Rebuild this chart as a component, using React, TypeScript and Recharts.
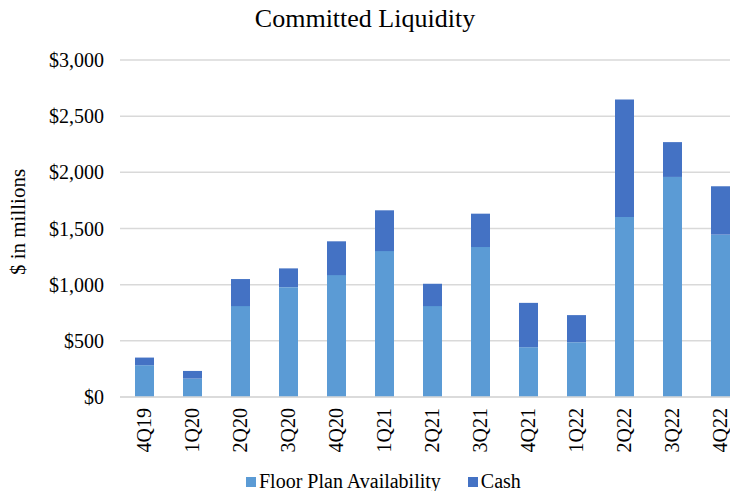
import { Bar, BarChart, CartesianGrid, Legend, XAxis, YAxis } from "recharts";

const quarters = [
  "4Q19", "1Q20", "2Q20", "3Q20", "4Q20", "1Q21", "2Q21",
  "3Q21", "4Q21", "1Q22", "2Q22", "3Q22", "4Q22",
];
const floorPlan = [283, 164, 809, 978, 1085, 1299, 809, 1335, 443, 488, 1603, 1959, 1445];
const cash = [68, 68, 241, 167, 301, 363, 199, 297, 395, 241, 1046, 310, 431];
const yTicks = [0, 500, 1000, 1500, 2000, 2500, 3000];

const FLOOR_COLOR = "#5B9BD5";
const CASH_COLOR = "#4472C4";
const FONT = '"Liberation Serif", "Times New Roman", serif';

const data = quarters.map((q, i) => ({ name: q, floor: floorPlan[i], cash: cash[i] }));

const formatDollars = (v: number) => "$" + v.toLocaleString("en-US");

function QuarterTick(props: any) {
  const { x, y, payload } = props;
  return (
    <text
      x={x}
      y={y}
      transform={`rotate(-90 ${x} ${y})`}
      textAnchor="end"
      dominantBaseline="central"
      fontFamily={FONT}
      fontSize={20}
      fill="#000"
    >
      {payload.value}
    </text>
  );
}

function LegendBox() {
  const items = [
    { label: "Floor Plan Availability", color: FLOOR_COLOR },
    { label: "Cash", color: CASH_COLOR },
  ];
  return (
    <div style={{ display: "flex", alignItems: "center", fontFamily: FONT, fontSize: 20, color: "#000", whiteSpace: "nowrap" }}>
      {items.map((it, i) => (
        <div key={it.label} style={{ display: "flex", alignItems: "center", marginRight: i === 0 ? 27 : 0 }}>
          <span style={{ display: "inline-block", width: 10, height: 10, background: it.color, marginRight: 3 }} />
          <span>{it.label}</span>
        </div>
      ))}
    </div>
  );
}

export default function App() {
  return (
    <div style={{ position: "fixed", left: 0, top: 0, width: 730, height: 491, overflow: "hidden", background: "#fff" }}>
      <div
        style={{
          position: "absolute",
          left: 0,
          width: 730,
          top: 4,
          textAlign: "center",
          fontFamily: FONT,
          fontSize: 26,
          color: "#000",
        }}
      >
        Committed Liquidity
      </div>
      <BarChart
        width={760}
        height={491}
        data={data}
        margin={{ top: 60, right: 16, bottom: 0, left: 0 }}
      >
        <CartesianGrid vertical={false} stroke="#d9d9d9" strokeWidth={1.5} />
        <XAxis
          dataKey="name"
          height={94}
          axisLine={{ stroke: "#d9d9d9", strokeWidth: 1.5 }}
          tickLine={false}
          tickSize={0}
          tickMargin={11}
          interval={0}
          tick={<QuarterTick />}
        />
        <YAxis
          width={120}
          domain={[0, 3000]}
          ticks={yTicks}
          tickFormatter={formatDollars}
          axisLine={false}
          tickLine={false}
          tickSize={0}
          tickMargin={16}
          tick={{ fontFamily: FONT, fontSize: 20, fill: "#000" }}
          label={{
            content: () => (
              <text
                x={18}
                y={222}
                transform="rotate(-90 18 222)"
                textAnchor="middle"
                dominantBaseline="central"
                fontFamily={FONT}
                fontSize={21}
                fill="#000"
              >
                $ in millions
              </text>
            ),
          }}
        />
        <Legend
          layout="horizontal"
          verticalAlign="middle"
          align="center"
          content={() => <LegendBox />}
          wrapperStyle={{ top: 470, left: 246, width: "auto" }}
        />
        <Bar dataKey="floor" stackId="a" fill={FLOOR_COLOR} barSize={19} isAnimationActive={false} />
        <Bar dataKey="cash" stackId="a" fill={CASH_COLOR} barSize={19} isAnimationActive={false} />
      </BarChart>
    </div>
  );
}
